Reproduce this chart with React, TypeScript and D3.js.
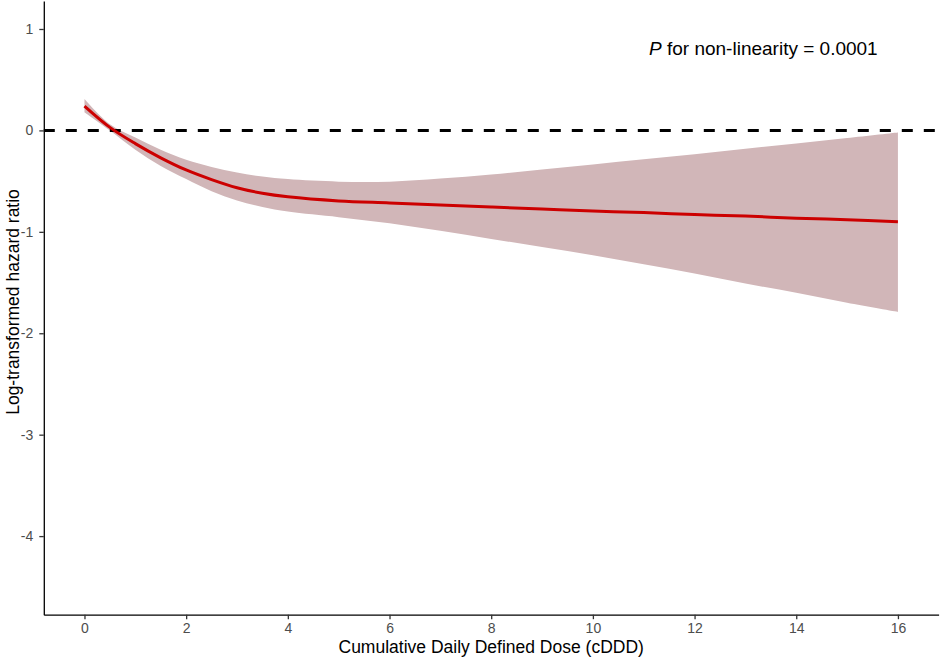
import { useEffect } from "react";
import * as d3 from "d3";

// dose (cDDD) at which the spline was read
const dose = [0, 0.5, 1, 1.5, 2, 2.5, 3, 3.5, 4, 5, 6, 7, 8, 9, 10, 11, 12, 13, 14, 15, 16];
// log HR estimate
const estimate = [0.24, 0.03, -0.13, -0.27, -0.39, -0.485, -0.565, -0.62, -0.655, -0.695, -0.715, -0.735, -0.755, -0.775, -0.795, -0.81, -0.83, -0.845, -0.865, -0.88, -0.9];
// 95% CI bounds
const upper = [0.31, 0.06, -0.07, -0.19, -0.29, -0.36, -0.415, -0.455, -0.48, -0.505, -0.505, -0.475, -0.435, -0.385, -0.335, -0.285, -0.235, -0.18, -0.13, -0.075, -0.02];
const lower = [0.18, 0.0, -0.19, -0.35, -0.48, -0.6, -0.69, -0.755, -0.8, -0.855, -0.915, -0.99, -1.07, -1.15, -1.23, -1.32, -1.41, -1.51, -1.6, -1.7, -1.79];

const xTicks = [0, 2, 4, 6, 8, 10, 12, 14, 16];
const yTicks = [1, 0, -1, -2, -3, -4];

interface IPoint {
  x: number;
  y: number;
  lo: number;
  hi: number;
}

const App = () => {
  const width = 941;
  const height = 658;

  useEffect(() => {
    document.body.style.margin = "0";
    d3.select("#splineChart").selectAll("*").remove();

    const data: IPoint[] = dose.map((x, i) => ({
      x,
      y: estimate[i],
      lo: lower[i],
      hi: upper[i],
    }));

    const xScale = d3.scaleLinear().domain([-0.8, 16.8]).range([43.8, 938.6]);
    const yScale = d3.scaleLinear().domain([-4.775, 1.275]).range([614.7, 1.1]);

    const svg = d3
      .select("#splineChart")
      .append("svg")
      .attr("width", width)
      .attr("height", height)
      .style("display", "block")
      .style("font-family", "'Liberation Sans', Arial, sans-serif");

    svg.append("rect").attr("width", width).attr("height", height).attr("fill", "white");

    const area = d3
      .area<IPoint>()
      .x((d) => xScale(d.x))
      .y0((d) => yScale(d.lo))
      .y1((d) => yScale(d.hi))
      .curve(d3.curveCatmullRom.alpha(0.5));

    svg.append("path").datum(data).attr("fill", "#d1b6b8").attr("d", area);

    // reference line at 0
    svg
      .append("line")
      .attr("x1", xScale(-0.8))
      .attr("x2", xScale(16.8))
      .attr("y1", yScale(0))
      .attr("y2", yScale(0))
      .attr("stroke", "black")
      .attr("stroke-width", 3)
      .attr("stroke-dasharray", "11,11");

    const line = d3
      .line<IPoint>()
      .x((d) => xScale(d.x))
      .y((d) => yScale(d.y))
      .curve(d3.curveCatmullRom.alpha(0.5));

    svg
      .append("path")
      .datum(data)
      .attr("fill", "none")
      .attr("stroke", "#cc0000")
      .attr("stroke-width", 3)
      .attr("d", line);

    const xAxis = svg
      .append("g")
      .attr("transform", `translate(0,${yScale(-4.775)})`)
      .call(
        d3
          .axisBottom(xScale)
          .tickValues(xTicks)
          .tickFormat((d) => String(d))
          .tickSize(4.5)
          .tickSizeOuter(0)
          .tickPadding(4)
      );

    const yAxis = svg
      .append("g")
      .attr("transform", `translate(${xScale(-0.8)},0)`)
      .call(
        d3
          .axisLeft(yScale)
          .tickValues(yTicks)
          .tickFormat((d) => String(d))
          .tickSize(4.5)
          .tickSizeOuter(0)
          .tickPadding(6)
      );

    [xAxis, yAxis].forEach((ax) => {
      ax.select(".domain").attr("stroke", "black").attr("stroke-width", 1.3);
      ax.selectAll(".tick line").attr("stroke", "#333").attr("stroke-width", 1.3);
      ax.selectAll(".tick text")
        .attr("fill", "#4d4d4d")
        .style("font-size", "14px")
        .style("font-family", "'Liberation Sans', Arial, sans-serif");
    });

    svg
      .append("text")
      .attr("x", (xScale(-0.8) + xScale(16.8)) / 2)
      .attr("y", 653)
      .attr("text-anchor", "middle")
      .attr("font-size", 17.5)
      .attr("fill", "black")
      .text("Cumulative Daily Defined Dose (cDDD)");

    svg
      .append("text")
      .attr("transform", `translate(19,302) rotate(-90)`)
      .attr("text-anchor", "middle")
      .attr("font-size", 17.5)
      .attr("fill", "black")
      .text("Log-transformed hazard ratio");

    const note = svg
      .append("text")
      .attr("x", 649)
      .attr("y", 55)
      .attr("font-size", 19)
      .attr("fill", "black");
    note.append("tspan").attr("font-style", "italic").text("P");
    note.append("tspan").text(" for non-linearity = 0.0001");
  });

  return <div id="splineChart" />;
};

export default App;
